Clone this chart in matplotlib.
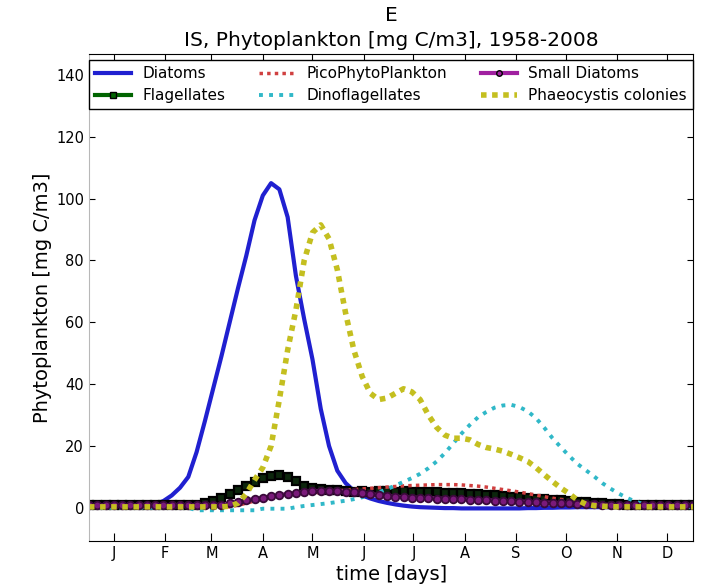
import matplotlib
matplotlib.use("Agg")
import matplotlib.pyplot as plt

# seasonal climatology, sampled every 5 days
days = list(range(0, 366, 5))

diatoms = [0.5, 0.5, 0.5, 0.5, 0.5, 0.5, 0.6, 0.8, 1.2, 2.2,
           4.0, 6.5, 10, 18, 28, 38.5, 49, 60, 71, 81.5,
           93, 101, 105, 103, 94, 75, 61, 48, 32, 20,
           12, 8, 5.5, 4, 3, 2.2, 1.6, 1.1, 0.7, 0.4,
           0.2, 0.1, 0.0, -0.1, -0.1, -0.2, -0.2, -0.2, -0.2, -0.2,
           -0.2, -0.2, -0.2, -0.1, -0.1, 0.0, 0.0, 0.1, 0.1, 0.2,
           0.2, 0.2, 0.2, 0.2, 0.2, 0.2, 0.3, 0.3, 0.3, 0.3,
           0.3, 0.3, 0.3, 0.3]

flagellates = [0.8, 0.8, 0.8, 0.8, 0.8, 0.8, 0.8, 0.8, 0.8, 0.8,
               0.8, 0.8, 0.8, 1.0, 1.5, 2.3, 3.2, 4.5, 5.8, 7.2,
               8.5, 9.6, 10.3, 10.5, 10.0, 8.6, 7.2, 6.4, 6.0, 5.8,
               5.6, 5.4, 5.2, 5.3, 5.2, 5.5, 5.3, 5.1, 5.3, 5.2,
               5.1, 5.2, 5.0, 4.9, 4.8, 4.7, 4.6, 4.4, 4.2, 4.0,
               3.8, 3.6, 3.4, 3.2, 3.0, 2.8, 2.6, 2.4, 2.2, 2.0,
               1.8, 1.6, 1.4, 1.2, 1.1, 1.0, 0.9, 0.9, 0.9, 0.9,
               0.8, 0.8, 0.8, 0.8]

pico = [0.3, 0.3, 0.3, 0.3, 0.3, 0.3, 0.3, 0.3, 0.3, 0.3,
        0.3, 0.3, 0.3, 0.3, 0.3, 0.3, 0.3, 0.3, 0.8, 1.5,
        2.2, 2.7, 3.1, 3.5, 3.8, 4.1, 4.4, 4.7, 5.0, 5.3,
        5.5, 5.7, 5.9, 6.1, 6.3, 6.5, 6.7, 6.9, 7.1, 7.2,
        7.3, 7.4, 7.5, 7.5, 7.5, 7.4, 7.2, 7.0, 6.7, 6.3,
        5.9, 5.5, 5.1, 4.6, 4.1, 3.6, 3.1, 2.7, 2.3, 1.9,
        1.6, 1.3, 1.1, 0.9, 0.8, 0.7, 0.7, 0.6, 0.6, 0.6,
        0.5, 0.5, 0.5, 0.5]

dinoflagellates = [0.0, 0.0, 0.0, 0.0, 0.0, 0.0, 0.0, 0.0, 0.0, 0.0,
                   0.0, 0.0, 0.0, -0.8, -0.8, -0.8, -0.8, -0.8, -0.8, -0.8,
                   -0.8, -0.3, -0.3, -0.3, -0.3, 0.2, 0.6, 0.9, 1.2, 1.5,
                   1.9, 2.3, 2.8, 3.4, 4.2, 5.0, 6.0, 7.2, 8.4, 9.6,
                   11, 12.8, 15, 17.7, 20.8, 24, 26.8, 29.3, 31, 32.4,
                   33.1, 33.3, 32.6, 31.2, 29, 25.9, 22.5, 19.6, 16.8, 14.2,
                   12.2, 10.2, 8, 6.2, 4.6, 3.2, 2.0, 1.2, 0.7, 0.4,
                   0.3, 0.2, 0.2, 0.2]

small_diatoms = [0.8, 0.8, 0.8, 0.8, 0.8, 0.8, 0.8, 0.8, 0.8, 0.8,
                 0.8, 0.8, 0.8, 0.8, 0.8, 0.8, 1.0, 1.4, 1.9, 2.4,
                 2.9, 3.3, 3.7, 4.1, 4.5, 4.8, 5.1, 5.3, 5.5, 5.5,
                 5.4, 5.2, 5.0, 4.7, 4.4, 4.1, 3.8, 3.6, 3.4, 3.3,
                 3.2, 3.1, 3.0, 2.9, 2.8, 2.7, 2.6, 2.5, 2.4, 2.3,
                 2.2, 2.1, 2.0, 1.9, 1.8, 1.7, 1.6, 1.5, 1.4, 1.3,
                 1.2, 1.1, 1.0, 0.9, 0.9, 0.9, 0.9, 0.8, 0.8, 0.8,
                 0.8, 0.8, 0.8, 0.8]

phaeocystis = [0.3, 0.3, 0.3, 0.3, 0.3, 0.3, 0.3, 0.3, 0.3, 0.3,
               0.3, 0.3, 0.3, 0.3, 0.3, 0.3, 0.3, 0.5, 1.5, 4.5,
               9, 13, 20, 35, 51, 64, 80, 89, 91.5, 87,
               77, 63, 51, 42.5, 37, 35, 35.5, 37, 38.5, 37.5,
               35, 30, 26, 23.5, 22.5, 22.5, 22, 20.5, 19.5, 19,
               18.3, 17.3, 16.2, 15, 13, 10.7, 8.5, 6.4, 4.6, 2.5,
               1.2, 0.7, 0.5, 0.4, 0.3, 0.3, 0.3, 0.3, 0.3, 0.3,
               0.3, 0.3, 0.3, 0.3]

month_days = [15, 46, 74, 105, 135, 166, 196, 227, 258, 288, 319, 349]
month_labels = ["J", "F", "M", "A", "M", "J", "J", "A", "S", "O", "N", "D"]

fig = plt.figure(figsize=(7.06, 5.86), dpi=100)
ax = fig.add_axes([0.126, 0.077, 0.856, 0.831])

ax.plot(days, diatoms, color="#2020d0", lw=3.0, label="Diatoms")
ax.plot(days, flagellates, color="#006400", lw=3, marker="s", ms=6,
        mew=1.6, mec="k", mfc="#0c260c", label="Flagellates")
ax.plot(days, pico, color="#d04040", lw=2.5, ls=(0, (1, 1.2)),
        label="PicoPhytoPlankton")
ax.plot(days, dinoflagellates, color="#30b8c8", lw=2.8, ls=(0, (1, 1.6)),
        label="Dinoflagellates")
ax.plot(days, small_diatoms, color="#a020a0", lw=3, marker="o", ms=5.5,
        mew=1.3, mec="#3a0a3a", mfc="#7a1a7a", label="Small Diatoms")
ax.plot(days, phaeocystis, color="#c4bf20", lw=4, ls=(0, (1, 1)),
        label="Phaeocystis colonies")

ax.set_xlim(0, 365)
ax.set_ylim(-10.7, 146.8)
ax.set_xticks(month_days)
ax.set_xticklabels(month_labels)
ax.set_yticks(range(0, 141, 20))
ax.tick_params(axis="both", direction="in", labelsize=10.5, length=6,
               top=True, right=True)
ax.tick_params(axis="y", length=4)
ax.spines["left"].set_color("#b8b8b8")

ax.set_xlabel("time [days]", fontsize=14, labelpad=3)
ax.set_ylabel("Phytoplankton [mg C/m3]", fontsize=14, labelpad=3)
ax.set_title("E\nIS, Phytoplankton [mg C/m3], 1958-2008", fontsize=14.5,
             linespacing=1.4, pad=6)

leg = ax.legend(loc="upper center", bbox_to_anchor=(0.5, 0.995),
                ncol=3, fontsize=11, numpoints=1,
                handlelength=2.35, handletextpad=0.75, labelspacing=0.45,
                columnspacing=2.2, borderaxespad=0.25, fancybox=False,
                framealpha=1, borderpad=0.4)
leg.get_frame().set_edgecolor("k")
leg.get_frame().set_linewidth(1.0)
# small markers on the legend keys, green / magenta faces
for h, face in zip(leg.legend_handles,
                   [None, "#006400", None, None, "#a020a0", None]):
    if face is not None:
        h.set_markersize(4)
        h.set_markerfacecolor(face)
        h.set_markeredgecolor("k")
        h.set_markeredgewidth(1)

fig.savefig("out.png", dpi=100)
